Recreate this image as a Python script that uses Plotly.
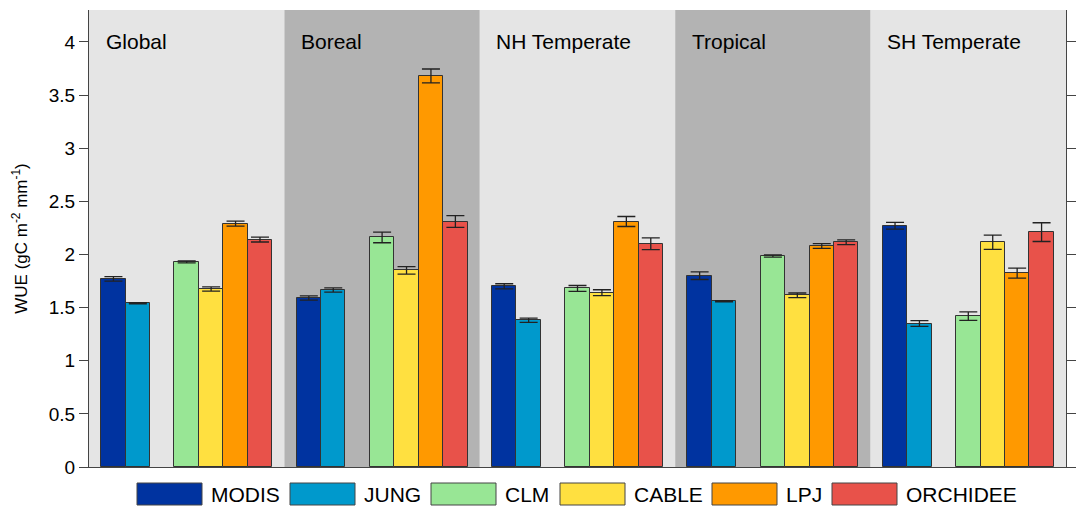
import plotly.graph_objects as go

regions = ["Global", "Boreal", "NH Temperate", "Tropical", "SH Temperate"]
series = ["MODIS", "JUNG", "CLM", "CABLE", "LPJ", "ORCHIDEE"]

modis = [1.77, 1.59, 1.70, 1.80, 2.27]
jung = [1.54, 1.665, 1.38, 1.56, 1.35]
clm = [1.93, 2.16, 1.68, 1.985, 1.42]
cable = [1.675, 1.85, 1.64, 1.615, 2.115]
lpj = [2.29, 3.68, 2.31, 2.08, 1.825]
orchidee = [2.14, 2.31, 2.10, 2.115, 2.21]

modis_err = [0.022, 0.02, 0.024, 0.036, 0.031]
jung_err = [0.006, 0.02, 0.02, 0.006, 0.027]
clm_err = [0.01, 0.05, 0.028, 0.01, 0.04]
cable_err = [0.02, 0.035, 0.028, 0.022, 0.067]
lpj_err = [0.023, 0.065, 0.047, 0.022, 0.047]
orchidee_err = [0.023, 0.055, 0.055, 0.022, 0.088]

yticks = [0, 0.5, 1, 1.5, 2, 2.5, 3, 3.5, 4]

# ---- styling / layout ----
values = [modis, jung, clm, cable, lpj, orchidee]
errors = [modis_err, jung_err, clm_err, cable_err, lpj_err, orchidee_err]
colors = ["#0033A0", "#0099CC", "#98E695", "#FFE040", "#FF9900", "#E8524A"]
slot_offsets = [1, 2, 4, 5, 6, 7]   # slot 3 is an empty gap
region_span = 8
bg_colors = ["#E5E5E5", "#B3B3B3"]
FONT = "Liberation Sans, Arial, sans-serif"

W, H = 1078, 508
ML, MR, MT, MB = 89, 12, 10, 41
PW, PH = W - ML - MR, H - MT - MB

fig = go.Figure()
for name, vals, errs, col, off in zip(series, values, errors, colors, slot_offsets):
    xs = [region_span * i + off for i in range(len(regions))]
    fig.add_trace(go.Bar(
        x=xs, y=vals, name=name, width=1.0,
        marker=dict(color=col, line=dict(color="#333333", width=1)),
        error_y=dict(type="data", array=errs, visible=True,
                     color="#222222", thickness=1.3, width=9),
        showlegend=False,
    ))

shapes = []
annotations = []
for i, reg in enumerate(regions):
    shapes.append(dict(type="rect", xref="x", yref="paper",
                       x0=region_span * i, x1=region_span * (i + 1), y0=0, y1=1,
                       fillcolor=bg_colors[i % 2], line=dict(width=0), layer="below"))
    annotations.append(dict(x=region_span * i + 0.6, y=4.0, xref="x", yref="y",
                            text=reg, showarrow=False, xanchor="left", yanchor="middle",
                            font=dict(family=FONT, size=21, color="black")))

# custom legend (wide swatches) in paper coordinates
legend_px = [137, 290, 431, 560, 712, 832]
sw_w, sw_top, sw_bot = 65, 483, 505
def px2x(px):
    return (px - ML) / PW
def py2y(py):
    return (H - MB - py) / PH
for name, col, lx in zip(series, colors, legend_px):
    shapes.append(dict(type="rect", xref="paper", yref="paper",
                       x0=px2x(lx), x1=px2x(lx + sw_w),
                       y0=py2y(sw_bot), y1=py2y(sw_top),
                       fillcolor=col, line=dict(color="#444444", width=1)))
    annotations.append(dict(x=px2x(lx + sw_w + 7), y=py2y((sw_top + sw_bot) / 2),
                            xref="paper", yref="paper", text=name, showarrow=False,
                            xanchor="left", yanchor="middle",
                            font=dict(family=FONT, size=21, color="black")))

fig.update_layout(
    width=W, height=H,
    margin=dict(l=ML, r=MR, t=MT, b=MB, pad=0, autoexpand=False),
    plot_bgcolor="white", paper_bgcolor="white",
    barmode="overlay", bargap=0,
    shapes=shapes, annotations=annotations,
    font=dict(family=FONT, color="black"),
    xaxis=dict(range=[0, region_span * len(regions)], showticklabels=False,
               ticks="", showgrid=False, zeroline=False, automargin=False,
               showline=True, linecolor="#444444", linewidth=1.2),
    yaxis=dict(range=[0, 4.3], tickvals=yticks, ticks="outside", ticklen=9,
               tickcolor="#444444", tickwidth=1.2, automargin=False,
               showgrid=False, zeroline=False, showline=True,
               linecolor="#444444", linewidth=1.2, mirror="ticks",
               tickfont=dict(family=FONT, size=19, color="black"),
               title=dict(text="WUE (gC m<sup>-2</sup> mm<sup>-1</sup>)",
                          font=dict(family=FONT, size=17, color="black"),
                          standoff=16)),
)

fig.write_html("out.html")
